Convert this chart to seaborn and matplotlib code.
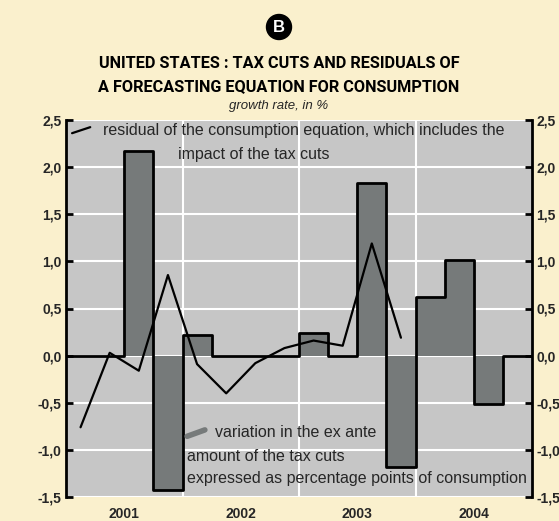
import numpy as np
import pandas as pd
import matplotlib
matplotlib.use("Agg")
import matplotlib.pyplot as plt
import seaborn as sns

# quarterly data, 2001Q1 .. 2004Q4
years = ["2001", "2002", "2003", "2004"]
quarters = [f"{y}Q{q}" for y in years for q in range(1, 5)]
tax_cuts = [0, 0, 2.17, -1.43, 0.22, 0, 0, 0, 0.24, 0, 1.83, -1.18, 0.62, 1.01, -0.51, 0]
residuals = [-0.76, 0.03, -0.16, 0.855, -0.09, -0.40, -0.08, 0.08, 0.16, 0.105, 1.19, 0.19]
y_ticks = [-1.5, -1.0, -0.5, 0.0, 0.5, 1.0, 1.5, 2.0, 2.5]
y_labels = ["-1,5", "-1,0", "-0,5", "0,0", "0,5", "1,0", "1,5", "2,0", "2,5"]

CREAM = "#FAF0CD"
PANEL = "#C6C6C6"
BAR = "#767A7A"

sns.set_style("white")
plt.rcParams["font.family"] = ["Liberation Sans", "DejaVu Sans"]
TITLE_FONT = ["Roboto", "Liberation Sans", "DejaVu Sans"]

W, H = 559, 521
fig = plt.figure(figsize=(W / 100, H / 100), dpi=100, facecolor=CREAM)
ax = fig.add_axes([66 / W, 1 - 497 / H, 466 / W, 377 / H])
ax.set_facecolor(PANEL)
ax.set_axisbelow(True)

bars = pd.DataFrame({"pos": np.arange(len(quarters)), "value": tax_cuts})
sns.barplot(data=bars, x="pos", y="value", native_scale=True, width=1.0,
            color=BAR, saturation=1, edgecolor="none", linewidth=0, ax=ax)

# residual line (quarter centres)
res = pd.DataFrame({"pos": np.arange(len(residuals)), "value": residuals})
sns.lineplot(data=res, x="pos", y="value", color="black", linewidth=1.6,
             ax=ax, zorder=3)

# step outline of the bars
edges = np.arange(len(quarters) + 1) - 0.5
steps = pd.DataFrame({"pos": edges, "value": tax_cuts + [tax_cuts[-1]]})
sns.lineplot(data=steps, x="pos", y="value", drawstyle="steps-post",
             color="black", linewidth=2, ax=ax, zorder=4)

ax.set_xlim(-0.5, len(quarters) - 0.5)
ax.set_ylim(-1.5, 2.5)
ax.set_xlabel("")
ax.set_ylabel("")

# gridlines
ax.yaxis.grid(True, color="white", linewidth=1.5)
year_bounds = [4 * i - 0.5 for i in range(1, len(years))]
ax.vlines(year_bounds, 0, 1, transform=ax.get_xaxis_transform(),
          colors="white", linewidth=1.5, zorder=0.5)

# x axis: year labels at centres, white quarter ticks
ax.set_xticks([4 * i + 1.5 for i in range(len(years))])
ax.set_xticklabels(years, fontsize=10, fontweight="bold")
ax.tick_params(axis="x", which="major", length=0, pad=7)
q_bounds = [i + 0.5 for i in range(len(quarters) - 1) if (i + 1) % 4 != 0]
ax.set_xticks(q_bounds, minor=True)
ax.tick_params(axis="x", which="minor", direction="inout", length=27,
               width=1.5, color="white")

# y axis on both sides
ax.set_yticks(y_ticks)
ax.set_yticklabels(y_labels, fontsize=10, fontweight="bold")
ax.tick_params(axis="y", which="both", left=True, right=True, labelleft=True,
               labelright=True, direction="in", length=5, width=2,
               color="black", pad=3)

for side in ["top", "bottom"]:
    ax.spines[side].set_visible(False)
for side in ["left", "right"]:
    ax.spines[side].set_linewidth(2)
    ax.spines[side].set_color("black")

# legend texts and samples
ax.plot([0.013, 0.052], [0.965, 0.981], transform=ax.transAxes, color="black", linewidth=1.6)
ax.text(0.079, 0.971, "residual of the consumption equation, which includes the",
        transform=ax.transAxes, fontsize=11.5, va="center", ha="left")
ax.text(0.241, 0.908, "impact of the tax cuts", transform=ax.transAxes,
        fontsize=11.5, va="center", ha="left")
ax.plot([0.26, 0.298], [0.161, 0.178], transform=ax.transAxes, color=BAR,
        linewidth=4, solid_capstyle="round", zorder=5)
ax.text(0.32, 0.17, "variation in the ex ante", transform=ax.transAxes,
        fontsize=11.5, va="center", ha="left", zorder=5)
ax.text(0.259, 0.107, "amount of the tax cuts", transform=ax.transAxes,
        fontsize=11.5, va="center", ha="left", zorder=5)
ax.text(0.259, 0.05, "expressed as percentage points of consumption",
        transform=ax.transAxes, fontsize=11.5, va="center", ha="left", zorder=5)

# titles
fig.text(279 / W, 1 - 27 / H, "B", color="white", fontsize=12, fontweight="bold",
         ha="center", va="center",
         bbox=dict(boxstyle="circle,pad=0.3", fc="black", ec="black"))
fig.text(279 / W, 1 - 63.5 / H, "UNITED STATES : TAX CUTS AND RESIDUALS OF",
         fontsize=11.7, fontweight="bold", color="black", ha="center", va="center",
         family=TITLE_FONT)
fig.text(279 / W, 1 - 86.5 / H, "A FORECASTING EQUATION FOR CONSUMPTION",
         fontsize=11.7, fontweight="bold", color="black", ha="center", va="center",
         family=TITLE_FONT)
fig.text(279 / W, 1 - 106 / H, "growth rate, in %", fontsize=9.5, style="italic",
         ha="center", va="center")

fig.savefig("out.png", dpi=100, facecolor=CREAM)
